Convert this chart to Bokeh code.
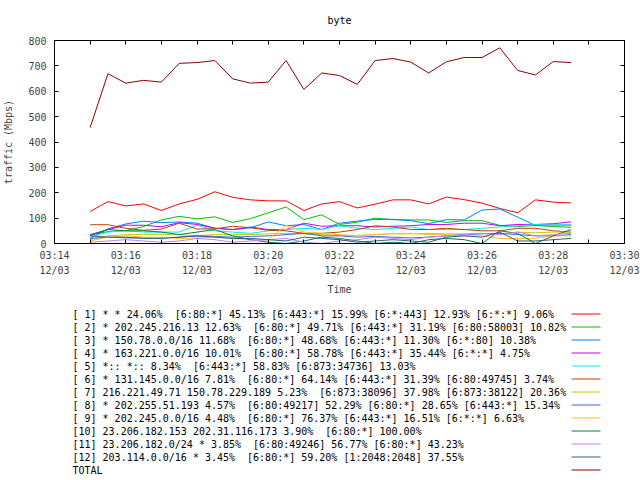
import pandas as pd
from bokeh.plotting import figure
from bokeh.models import (Range1d, FixedTicker, DatetimeTickFormatter, LinearAxis, DatetimeAxis,
                          CustomLabelingPolicy, ColumnDataSource)
from bokeh.layouts import column
from bokeh.embed import file_html
from bokeh.resources import INLINE
from bokeh.core.properties import value

DATE = "2012-12-03"
times = ["03:15:00", "03:15:30", "03:16:00", "03:16:30", "03:17:00", "03:17:30", "03:18:00",
         "03:18:30", "03:19:00", "03:19:30", "03:20:00", "03:20:30", "03:21:00", "03:21:30",
         "03:22:00", "03:22:30", "03:23:00", "03:23:30", "03:24:00", "03:24:30", "03:25:00",
         "03:25:30", "03:26:00", "03:26:30", "03:27:00", "03:27:30", "03:28:00", "03:28:30"]
axis_start, axis_end = "03:14:00", "03:30:00"
major_ticks = ["03:14", "03:16", "03:18", "03:20", "03:22", "03:24", "03:26", "03:28", "03:30"]
minor_ticks = ["03:15", "03:17", "03:19", "03:21", "03:23", "03:25", "03:27", "03:29"]
y_ticks = [0, 100, 200, 300, 400, 500, 600, 700, 800]

s1 = [126, 165, 148, 156, 130, 156, 174, 204, 182, 172, 168, 168, 130, 156,
      165, 140, 155, 172, 172, 156, 183, 173, 159, 138, 121, 172, 163, 160]
s2 = [34, 47, 51, 67, 93, 107, 97, 105, 83, 98, 121, 144, 94, 113,
      75, 84, 100, 94, 93, 93, 83, 90, 90, 71, 67, 71, 67, 64]
s3 = [20, 58, 77, 88, 82, 85, 80, 60, 55, 62, 85, 70, 75, 55,
      80, 88, 95, 95, 90, 78, 94, 93, 132, 136, 104, 71, 73, 73]
s4 = [31, 55, 72, 72, 66, 82, 75, 60, 55, 65, 55, 55, 80, 68,
      70, 70, 65, 68, 70, 75, 75, 80, 80, 70, 75, 75, 78, 85]
s5 = [25, 45, 50, 45, 45, 45, 72, 50, 45, 40, 50, 55, 60, 55,
      70, 60, 55, 60, 65, 55, 55, 55, 60, 65, 70, 75, 72, 72]
s6 = [74, 74, 60, 52, 57, 80, 57, 58, 68, 62, 52, 50, 40, 40,
      45, 55, 70, 65, 55, 55, 60, 55, 50, 50, 60, 60, 50, 45]
s7 = [15, 30, 35, 35, 35, 35, 30, 35, 35, 35, 38, 40, 38, 35,
      32, 32, 35, 38, 38, 40, 38, 38, 40, 38, 45, 42, 45, 45]
s8 = [20, 25, 22, 22, 22, 25, 30, 28, 25, 28, 30, 35, 40, 30,
      30, 25, 28, 25, 22, 25, 30, 35, 38, 40, 35, 30, 30, 35]
s9 = [10, 25, 30, 25, 25, 20, 22, 25, 20, 15, 15, 72, 45, 40,
      35, 30, 35, 40, 40, 35, 35, 30, 30, 20, 20, 20, 30, 30]
s10 = [35, 55, 50, 50, 45, 35, 45, 55, 30, 15, 5, 0, 10, 25,
       20, 10, 0, 5, 0, 15, 20, 15, 0, 50, 40, 0, 30, 55]
s11 = [5, 10, 15, 10, 5, 10, 20, 15, 5, 10, 15, 20, 5, 0,
       10, 15, 25, 20, 15, 25, 30, 35, 40, 35, 45, 30, 35, 40]
s12 = [30, 25, 25, 20, 20, 25, 30, 25, 20, 20, 15, 10, 25, 20,
       15, 5, 10, 15, 10, 5, 25, 30, 25, 45, 10, 10, 15, 20]
total = [457, 669, 632, 643, 636, 710, 713, 721, 649, 632, 636, 721, 607, 672,
         662, 627, 721, 729, 715, 672, 716, 733, 733, 771, 682, 664, 717, 713]

series = [s1, s2, s3, s4, s5, s6, s7, s8, s9, s10, s11, s12, total]
colors = ["#ff0000", "#00c000", "#0080ff", "#c000ff", "#00eeee", "#c04000",
          "#c8c800", "#4169e1", "#ffc020", "#008040", "#c080ff", "#306080", "#8b0000"]
labels = [
    "[ 1] * * 24.06%  [6:80:*] 45.13% [6:443:*] 15.99% [6:*:443] 12.93% [6:*:*] 9.06%",
    "[ 2] * 202.245.216.13 12.63%  [6:80:*] 49.71% [6:443:*] 31.19% [6:80:58003] 10.82%",
    "[ 3] * 150.78.0.0/16 11.68%  [6:80:*] 48.68% [6:443:*] 11.30% [6:*:80] 10.38%",
    "[ 4] * 163.221.0.0/16 10.01%  [6:80:*] 58.78% [6:443:*] 35.44% [6:*:*] 4.75%",
    "[ 5] *:: *:: 8.34%  [6:443:*] 58.83% [6:873:34736] 13.03%",
    "[ 6] * 131.145.0.0/16 7.81%  [6:80:*] 64.14% [6:443:*] 31.39% [6:80:49745] 3.74%",
    "[ 7] 216.221.49.71 150.78.229.189 5.23%  [6:873:38096] 37.98% [6:873:38122] 20.36%",
    "[ 8] * 202.255.51.193 4.57%  [6:80:49217] 52.29% [6:80:*] 28.65% [6:443:*] 15.34%",
    "[ 9] * 202.245.0.0/16 4.48%  [6:80:*] 76.37% [6:443:*] 16.51% [6:*:*] 6.63%",
    "[10] 23.206.182.153 202.31.116.173 3.90%  [6:80:*] 100.00%",
    "[11] 23.206.182.0/24 * 3.85%  [6:80:49246] 56.77% [6:80:*] 43.23%",
    "[12] 203.114.0.0/16 * 3.45%  [6:80:*] 59.20% [1:2048:2048] 37.55%",
    "TOTAL",
]

FONT = "DejaVu Sans Mono"


def ms(t):
    return pd.Timestamp(f"{DATE} {t}").value // 10**6


xs = [pd.Timestamp(f"{DATE} {t}") for t in times]

W = 640
p = figure(width=W, height=300, x_axis_type="datetime",
           x_range=Range1d(ms(axis_start), ms(axis_end)), y_range=Range1d(0, 800),
           output_backend="svg", toolbar_location=None, title="byte",
           min_border_left=53, min_border_right=16, min_border_top=40, min_border_bottom=57)
p.title.align = "center"
p.title.text_font = FONT
p.title.text_font_size = "10px"
p.title.text_font_style = "normal"
p.title.text_color = "black"
p.title.standoff = 13
p.grid.visible = False
p.outline_line_color = "black"
p.background_fill_color = "white"
p.border_fill_color = "white"

for ys, c in zip(series, colors):
    p.line(xs, ys, line_color=c, line_width=1)

xt = FixedTicker(ticks=[ms(t) for t in major_ticks], minor_ticks=[ms(t) for t in minor_ticks])
fmt = "%H:%M\n%m/%d"
xf = DatetimeTickFormatter(minutes=fmt, hourmin=fmt, hours=fmt, minsec=fmt, seconds=fmt)
xa = p.xaxis[0]
xa.ticker = xt
xa.formatter = xf
xa.axis_label = "Time"
xa.major_tick_in = 4
xa.major_tick_out = 0
xa.minor_tick_in = 4
xa.minor_tick_out = 0
xa.major_label_standoff = 6
xa.axis_label_standoff = 5
xa.major_label_text_font = FONT
xa.major_label_text_font_size = "10px"
xa.major_label_text_line_height = 1.45
xa.axis_label_text_font = FONT
xa.axis_label_text_font_size = "10px"
xa.axis_label_text_font_style = "normal"

ya = p.yaxis[0]
ya.ticker = FixedTicker(ticks=y_ticks)
ya.axis_label = "traffic (Mbps)"
ya.major_tick_in = 4
ya.major_tick_out = 0
ya.minor_tick_line_color = None
ya.major_label_standoff = 8
ya.axis_label_standoff = 11
ya.major_label_text_font = FONT
ya.major_label_text_font_size = "10px"
ya.axis_label_text_font = FONT
ya.axis_label_text_font_size = "10px"
ya.axis_label_text_font_style = "normal"

no_labels = CustomLabelingPolicy(code="return []")
top = DatetimeAxis(ticker=xt, formatter=xf, major_tick_in=4, major_tick_out=0,
                   minor_tick_in=4, minor_tick_out=0, major_label_text_font_size="2px",
                   major_label_standoff=0, major_label_policy=no_labels)
p.add_layout(top, "above")
right = LinearAxis(ticker=FixedTicker(ticks=y_ticks), major_tick_in=4, major_tick_out=0,
                   minor_tick_line_color=None, major_label_text_font_size="2px",
                   major_label_standoff=0, major_label_policy=no_labels)
p.add_layout(right, "right")

# key below the plot (gnuplot style: text left, line sample right)
n = len(labels)
rows = list(range(n))
key_text = [t.replace("  ", " \u00a0") for t in labels]
KEY_TEXT_X, KEY_LINE_X0, KEY_LINE_X1 = 71, 571, 600
key = ColumnDataSource(dict(
    tx=[KEY_TEXT_X] * n, x0=[KEY_LINE_X0] * n, x1=[KEY_LINE_X1] * n,
    row=rows, text=key_text, color=colors))
lp = figure(width=W, height=176, x_range=Range1d(53, 624), y_range=Range1d(12.5, -1.0385),
            output_backend="svg", toolbar_location=None,
            min_border_left=53, min_border_right=16, min_border_top=0, min_border_bottom=0,
            x_axis_location=None, y_axis_location=None)
lp.grid.visible = False
lp.outline_line_color = None
lp.text(x="tx", y="row", text="text", source=key, text_font=value(FONT), text_font_size="10px",
        text_baseline="middle", text_align="left", text_color="black")
lp.segment(x0="x0", y0="row", x1="x1", y1="row", line_color="color", line_width=1, source=key)

layout = column(p, lp, spacing=0)
open("out.html", "w").write(file_html(layout, INLINE))
